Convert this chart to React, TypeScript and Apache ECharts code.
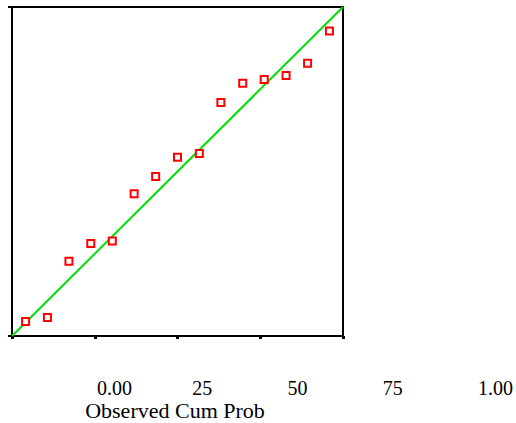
import React, { useEffect, useRef } from "react";
import * as echarts from "echarts";

// Observed cumulative probability (x) and expected cumulative probability (y)
const observedCumProb = [0.041, 0.107, 0.172, 0.238, 0.303, 0.369, 0.434, 0.5, 0.566, 0.631, 0.697, 0.762, 0.828, 0.893, 0.959];
const expectedCumProb = [0.044, 0.056, 0.227, 0.281, 0.289, 0.432, 0.485, 0.543, 0.555, 0.71, 0.768, 0.78, 0.792, 0.829, 0.927];
const referenceLine = [[0, 0], [1, 1]];
const tickValues = [0, 25, 50, 75, 100];
const tickLabels = ["0.00", "25", "50", "75", "1.00"];
const xTitle = "Observed Cum Prob";

export default function App() {
  const ref = useRef<HTMLDivElement>(null);
  useEffect(() => {
    if (!ref.current) return;
    const chart = echarts.init(ref.current, null, { renderer: "svg" });
    const font = "'Liberation Serif', 'Times New Roman', serif";
    const points = observedCumProb.map((x, i) => [x, expectedCumProb[i]]);
    chart.setOption({
      animation: false,
      backgroundColor: "#ffffff",
      grid: [
        { left: 12, top: 7, width: 331, height: 329, show: true, borderColor: "#000", borderWidth: 2, backgroundColor: "transparent" },
        { left: 97, top: 370, width: 386, height: 1, show: false },
      ],
      xAxis: [
        {
          type: "value", gridIndex: 0, min: 0, max: 1, interval: 0.25,
          axisLine: { show: true, lineStyle: { color: "#000", width: 2 } },
          axisTick: { show: true, length: 3, lineStyle: { color: "#000", width: 3 } },
          axisLabel: { show: false },
          splitLine: { show: false },
        },
        {
          type: "value", gridIndex: 1, min: 0, max: 100, interval: 25,
          axisLine: { show: false }, axisTick: { show: false }, splitLine: { show: false },
          axisLabel: {
            show: true, margin: 7, align: "left", color: "#000", fontFamily: font, fontSize: 20,
            formatter: (v: number) => tickLabels[tickValues.indexOf(v)] ?? "",
          },
        },
      ],
      yAxis: [
        {
          type: "value", gridIndex: 0, min: 0, max: 1, interval: 1,
          axisLine: { show: true, lineStyle: { color: "#000", width: 2 } },
          axisTick: { show: true, length: 4, lineStyle: { color: "#000", width: 2 } },
          axisLabel: { show: false },
          splitLine: { show: false },
        },
        {
          type: "value", gridIndex: 1, min: 0, max: 1, show: false,
        },
      ],
      graphic: [
        {
          type: "text", x: 175, y: 410,
          style: { text: xTitle, fill: "#000", font: `22px ${font}`, align: "center", verticalAlign: "middle" },
        },
      ],
      series: [
        {
          type: "line", xAxisIndex: 0, yAxisIndex: 0, data: referenceLine,
          showSymbol: false, symbol: "none", lineStyle: { color: "#00e000", width: 2 }, z: 2,
        },
        {
          type: "scatter", xAxisIndex: 0, yAxisIndex: 0, data: points,
          symbol: "rect", symbolSize: 7,
          itemStyle: { color: "#ffffff", borderColor: "#ff0000", borderWidth: 2, opacity: 1 },
          z: 3,
        },
      ],
    });
    return () => chart.dispose();
  }, []);
  return <div ref={ref} style={{ position: "fixed", left: 0, top: 0, width: 516, height: 423 }} />;
}
